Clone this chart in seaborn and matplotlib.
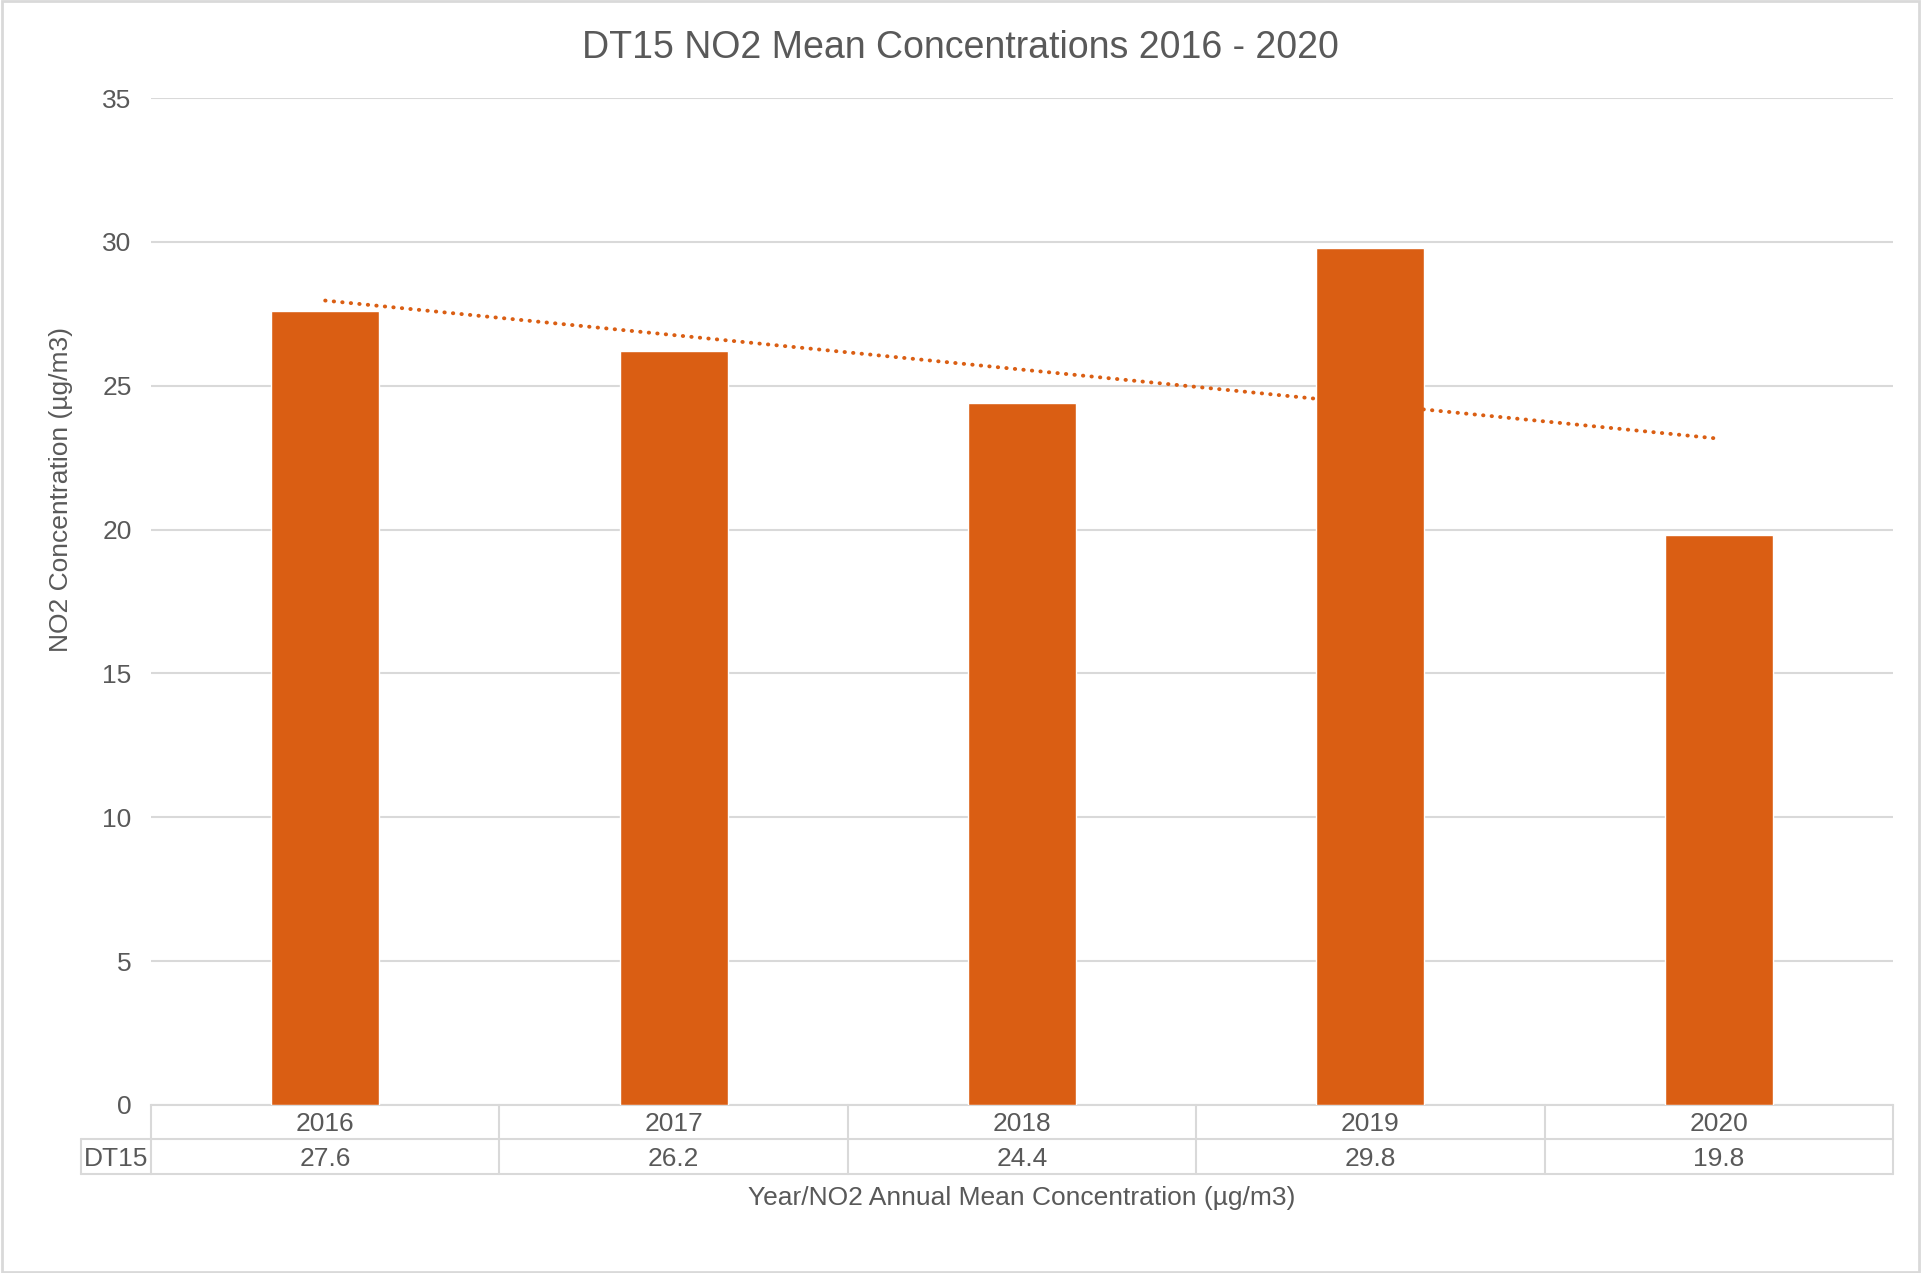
import numpy as np
import pandas as pd
import matplotlib
matplotlib.use("Agg")
import matplotlib.pyplot as plt
import matplotlib.transforms as mtransforms
from matplotlib.patches import Rectangle
import seaborn as sns

# Data
years = ["2016", "2017", "2018", "2019", "2020"]
values = [27.6, 26.2, 24.4, 29.8, 19.8]
site = "DT15"

BAR = "#DA5E13"
TXT = "#595959"
GRID = "#D9D9D9"
FS = 19

sns.set_style("white")
plt.rcParams["font.family"] = ["Liberation Sans", "DejaVu Sans"]

df = pd.DataFrame({"year": years, "value": values})

fig = plt.figure(figsize=(19.21, 12.73), dpi=100)
ax = fig.add_axes([0.0786, 0.1320, 0.9068, 0.7910])

sns.barplot(data=df, x="year", y="value", color=BAR, width=0.31,
            saturation=1, ax=ax, zorder=3)

# linear trendline (Excel style)
xs = np.arange(len(values))
slope, intercept = np.polyfit(xs, values, 1)
ax.plot(xs, slope * xs + intercept, color=BAR, lw=2.8,
        linestyle=(0, (0.1, 2.1)), dash_capstyle="round", zorder=4)

ax.set_ylim(0, 35)
ax.set_xlim(-0.5, len(years) - 0.5)
ax.set_yticks(range(0, 36, 5))
ax.yaxis.grid(True, color=GRID, lw=1.5, zorder=0)
ax.tick_params(axis="y", length=0, pad=14, labelsize=FS, labelcolor=TXT)
ax.set_xticks([])
ax.set_xlabel("")
ax.set_ylabel("")
for s in ["top", "right", "left"]:
    ax.spines[s].set_visible(False)
ax.spines["bottom"].set_color(GRID)
ax.spines["bottom"].set_linewidth(1.5)

fig.text(0.5, 1 - 48 / 1273, "DT15 NO2 Mean Concentrations 2016 - 2020",
         ha="center", va="center", fontsize=27, color=TXT)
fig.text(61 / 1921, 1 - 490 / 1273, "NO2 Concentration (µg/m3)",
         rotation=90, ha="center", va="center", fontsize=FS, color=TXT)

# data table under the axis
ax_h = fig.get_size_inches()[1] * fig.dpi * 0.7910
r1 = 34 / ax_h
r2 = 69 / ax_h
off = 2.5 / ax_h
lab_left = -(151 - 81) / (fig.get_size_inches()[0] * fig.dpi * 0.9068)
bt = mtransforms.blended_transform_factory(ax.transData, ax.transAxes)
kw = dict(color=GRID, lw=1.5, clip_on=False, zorder=5)
ax.plot([-0.5, len(years) - 0.5], [-r1, -r1], transform=bt, **kw)
ax.plot([-0.5, len(years) - 0.5], [-r2, -r2], transform=bt, **kw)
ax.plot([lab_left, 0], [-r1, -r1], transform=ax.transAxes, **kw)
ax.plot([lab_left, 0], [-r2, -r2], transform=ax.transAxes, **kw)
ax.plot([lab_left, lab_left], [-r1, -r2], transform=ax.transAxes, **kw)
for k in range(len(years) + 1):
    ax.plot([k - 0.5, k - 0.5], [0, -r2], transform=bt, **kw)
for i, (yr, v) in enumerate(zip(years, values)):
    ax.text(i, -r1 / 2 - off, yr, transform=bt, ha="center", va="center",
            fontsize=FS, color=TXT)
    ax.text(i, -(r1 + r2) / 2 - off, f"{v:.1f}", transform=bt, ha="center",
            va="center", fontsize=FS, color=TXT)
ax.text(lab_left / 2, -(r1 + r2) / 2 - off, site, transform=ax.transAxes,
        ha="center", va="center", fontsize=FS, color=TXT)

fig.text(1022 / 1921, 1 - 1198 / 1273,
         "Year/NO2 Annual Mean Concentration (µg/m3)", ha="center",
         va="center", fontsize=FS, color=TXT)

fig.patches.append(Rectangle((0.001, 0.001), 0.998, 0.998, fill=False,
                             edgecolor=GRID, lw=2, transform=fig.transFigure))

fig.savefig("out.png", dpi=100)
plt.close(fig)
